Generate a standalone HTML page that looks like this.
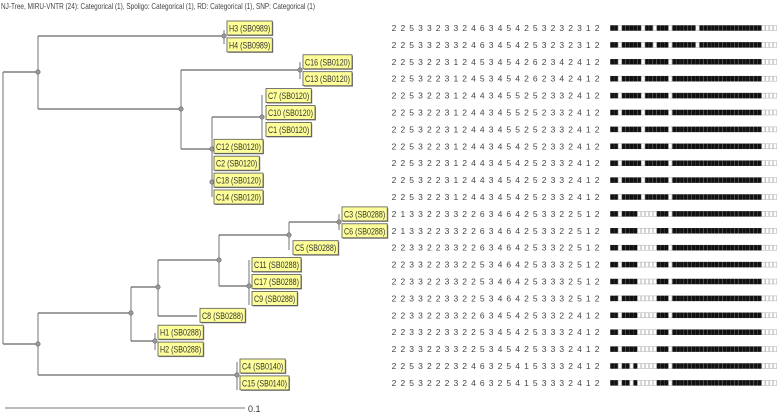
<!DOCTYPE html>
<html><head><meta charset="utf-8">
<style>
html,body{margin:0;padding:0;background:#fff;}
svg{display:block;font-family:"Liberation Sans",sans-serif;}
</style></head>
<body>
<svg id="chart" width="778" height="413" viewBox="0 0 778 413">
<text x="1" y="9" font-size="8.5" fill="#444" textLength="314" lengthAdjust="spacingAndGlyphs">NJ-Tree, MIRU-VNTR (24): Categorical (1), Spoligo: Categorical (1), RD: Categorical (1), SNP: Categorical (1)</text>
<g id="tree"></g>
<g id="labels"></g>
<g id="miru"></g>
<g id="spol"></g>
<line x1="5" y1="408" x2="245" y2="408" stroke="#777" stroke-width="1"/>
<text x="248" y="412" font-size="9" fill="#333">0.1</text>
</svg>
<script>
const leafNames = ["H3 (SB0989)","H4 (SB0989)","C16 (SB0120)","C13 (SB0120)","C7 (SB0120)","C10 (SB0120)","C1 (SB0120)","C12 (SB0120)","C2 (SB0120)","C18 (SB0120)","C14 (SB0120)","C3 (SB0288)","C6 (SB0288)","C5 (SB0288)","C11 (SB0288)","C17 (SB0288)","C9 (SB0288)","C8 (SB0288)","H1 (SB0288)","H2 (SB0288)","C4 (SB0140)","C15 (SB0140)"];
const miruProfiles = [
"225332332463454253232312","225332332463454253232312",
"225322312453454262342412","225322312453454262342412",
"225322312443455252332412","225322312443455252332412","225322312443455252332412",
"225322312443454252332412","225322312443454252332412","225322312443454252332412","225322312443454252332412",
"213322332263464253322512","213322332263464253322512",
"223322332263464253322512",
"223322332253464253332512","223322332253464253332512","223322332253464253332512",
"223322332263454253322412",
"223322332253454253332412","223322332253454253332412",
"225322232463254153332412","225322232463254153332412"];
const spoligoTypes = {
"SB0989":"1101111101101110111111011111111111111111110000".slice(0,43),
"SB0120":"1101111101111110111111111111111111111110000",
"SB0288":"1101111000001110111111111111111111111110000",
"SB0140":"1101101000001110111111111111111111111110000"};
// fix SB0989: 2b,1w,5b,1w,2b,1w,3b,1w,6b,1w,16b,4w
spoligoTypes["SB0989"]="11"+"0"+"11111"+"0"+"11"+"0"+"111"+"0"+"111111"+"0"+"1111111111111111"+"0000";

const NS="http://www.w3.org/2000/svg";
const rowY = i => 28 + i*16.9;
function mk(tag, attrs, parent){const e=document.createElementNS(NS,tag);for(const k in attrs)e.setAttribute(k,attrs[k]);parent.appendChild(e);return e;}

// tree: [x, yTop, yBottom, dotY] verticals and horizontals
const tree=document.getElementById('tree');
const V=[[3,72,344],[38,36,109],[224,30,44],[181,70,149],[300,62,79],[262,95,140],[212,117,197],[38,313,375],[131,287,341],[158,260,316],[219,235,286],[289,222,250],[339,214,230],[249,260,305],[155,333,350],[237,362,390]];
const H=[[3,38,72],[3,38,344],[38,224,36],[38,181,109],[181,300,70],[181,212,149],[212,262,117],[38,131,313],[38,237,375],[131,158,287],[131,155,341],[158,219,260],[158,197,316],[219,289,235],[219,249,286],[289,339,222]];
V.forEach(v=>{const l=mk('line',{x1:v[0],x2:v[0],y1:v[1],y2:v[2],stroke:'#8a8a8a','stroke-width':1.2},tree);

});
H.forEach(h=>{const l=mk('line',{x1:h[0],x2:h[1],y1:h[2],y2:h[2],stroke:'#666','stroke-width':1.2},tree);

});
const dots=[[38,72],[224,36],[181,109],[300,70],[262,117],[212,149],[212,182],[38,344],[131,313],[158,287],[155,341],[219,260],[289,235],[339,222],[249,286],[237,375]];
dots.forEach(d=>{const c=mk('circle',{cx:d[0],cy:d[1],r:2.2,fill:'#999',stroke:'#666','stroke-width':0.6},tree);

});

const labelX=[227,227,303,303,266,266,266,214,214,214,214,342,342,293,252,252,252,200,158,158,240,240];
const labels=document.getElementById('labels');
leafNames.forEach((n,i)=>{
  const y=rowY(i), w=n.length*3.75+4;
  const g=mk('g',{},labels);
  
  
  mk('rect',{x:labelX[i]+1,y:y-6,width:w,height:14,fill:'#888'},g);
  mk('rect',{x:labelX[i],y:y-7,width:w,height:14,fill:'#ffff99',stroke:'#555','stroke-width':0.8},g);
  const t=mk('text',{x:labelX[i]+2,y:y+3.5,'font-size':9.5,fill:'#333',textLength:w-4,lengthAdjust:'spacingAndGlyphs'},g);
  t.textContent=n;
});

const miru=document.getElementById('miru');
miruProfiles.forEach((p,i)=>{
  const y=rowY(i);
  [...p].forEach((d,j)=>{
    const t=mk('text',{x:394+j*8.83,y:y+3,'font-size':8.5,fill:'#444','text-anchor':'middle'},miru);
    
    
    t.textContent=d;
  });
});

const spol=document.getElementById('spol');
leafNames.forEach((n,i)=>{
  const code=n.match(/SB\d+/)[0];
  const pat=spoligoTypes[code];
  const y=rowY(i);
  for(let j=0;j<43;j++){
    const r=mk('rect',{x:610.5+j*3.88,y:y-2.5,width:3.2,height:5,fill:pat[j]==='1'?'#111':'#fff',stroke:pat[j]==='1'?'#111':'#aaa','stroke-width':0.5},spol);
    
    
  }
});
</script>
</body></html>
